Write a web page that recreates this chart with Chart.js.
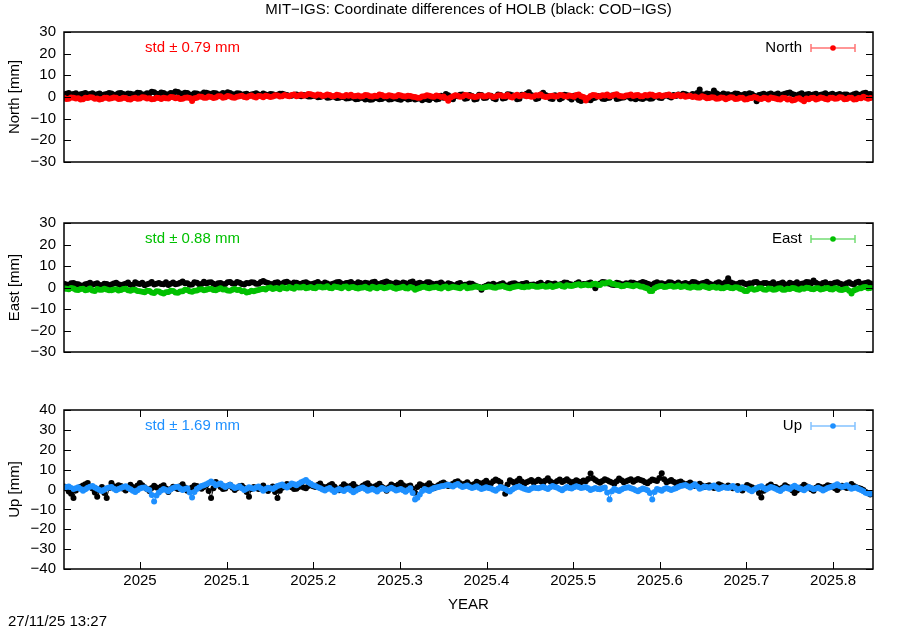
<!DOCTYPE html>
<html>
<head>
<meta charset="utf-8">
<title>MIT-IGS coordinate differences of HOLB</title>
<script src="https://cdn.jsdelivr.net/npm/chart.js@4.4.1/dist/chart.umd.min.js"></script>
<style>
    html, body { margin: 0; padding: 0; background: #fff; }
    #wrap { position: relative; width: 900px; height: 630px; }
    #wrap canvas { position: absolute; left: 0; top: 0; }
</style>
</head>
<body>
<div id="wrap">
    <canvas id="north" width="900" height="630"></canvas>
    <canvas id="east" width="900" height="630"></canvas>
    <canvas id="up" width="900" height="630"></canvas>
</div>
<script>
// Epochs: one daily solution, starting at the left edge of the plot.
const firstEpoch = 2024.9123;
const stepYears = 1 / 365.25;
const xMin = 2024.9123;
const xMax = 2025.8461;
const xTickValues = [2025.0, 2025.1, 2025.2, 2025.3, 2025.4, 2025.5, 2025.6, 2025.7, 2025.8];
const xTickLabels = ["2025", "2025.1", "2025.2", "2025.3", "2025.4", "2025.5", "2025.6", "2025.7", "2025.8"];

// Differences in mm (black = COD-IGS, colour = MIT-IGS).
// 20 days per row.
const codNorth = [
    1.2, 1.5, 1.8, 1.1, 1.4, 1.7, 0.9, 1.3, 1.5, 1.9, 1.1, 1.4, 1.7, 1.0, 1.3, 1.6, 0.8, 1.2, 1.4, 1.8,
    1.6, 1.0, 1.2, 1.7, 1.9, 1.4, 1.0, 1.6, 1.5, 1.2, 1.3, 2.0, 1.8, 1.2, 1.1, 1.7, 1.6, 2.4, 2.2, 1.5,
    1.4, 2.1, 1.9, 1.3, 1.2, 1.8, 1.7, 2.5, 2.3, 1.6, 1.5, 2.0, 1.8, 1.1, 1.0, 1.7, 1.6, 1.2, 1.3, 2.1,
    2.0, 1.6, 1.4, 1.9, 1.7, 1.1, 1.2, 1.8, 1.5, 2.2, 1.9, 1.3, 1.1, 1.7, 1.6, 1.0, 1.3, 1.5, 0.9, 1.2,
    1.4, 1.7, 1.1, 0.8, 1.6, 1.2, 0.8, 1.4, 1.3, 0.7, 1.0, 1.5, 1.5, 1.1, 0.9, 0.5, 0.6, 1.0, 1.2, 0.7,
    0.4, 0.9, 0.7, 0.2, 0.2, 0.6, 0.5, -0.1, 0.0, 0.4, 0.3, -0.3, -0.2, 0.2, 0.1, -0.5, -0.4, 0.0, -0.1, -0.7,
    -0.6, -0.2, -0.3, -1.0, -0.9, -0.4, -0.5, -1.1, -0.8, -1.3, -1.2, -0.5, -0.6, -1.0, -0.9, -0.3, -0.4, -1.1, -1.0, -0.6,
    -0.7, -1.0, -1.3, -0.6, -0.5, -1.2, -0.9, -0.4, -1.1, -0.8, -0.6, -1.5, -0.8, -1.0, -1.4, -0.3, -0.5, -1.2, -0.9, 0.6,
    -0.4, 1.4, 0.8, -0.7, -1.0, 0.6, 0.3, 1.0, 1.2, -0.8, -0.6, 0.9, 0.5, -1.1, -0.9, 1.0, 0.9, -0.5, -0.3, 0.7,
    0.6, -0.6, -1.0, 1.1, 0.9, -0.7, -0.5, 1.3, 1.1, 0.8, 0.2, -1.0, -0.8, 1.0, 0.7, 1.5, 2.2, 0.9, 0.4, -0.9,
    -0.6, 1.2, 2.0, 0.9, 0.5, -0.7, -0.9, 0.8, 0.3, -1.0, -0.5, 1.0, 0.8, -0.4, -1.1, 0.6, -0.3, -1.4, -1.9, -0.5,
    -0.8, -1.2, -1.5, -0.6, -0.4, 0.5, 0.2, -0.8, -0.9, -0.5, -0.3, 0.7, 0.6, -0.9, -0.7, -0.3, -0.2, 0.4, 0.1, -0.7,
    -0.6, -1.0, -0.3, -0.7, -0.9, -0.4, -0.2, -0.8, -0.7, 0.1, 0.4, -0.3, -0.5, 0.5, 0.8, 0.2, -0.2, 0.9, 0.5, 1.1,
    0.9, 1.5, 1.3, 0.8, 0.6, 1.4, 1.1, 1.9, 3.5, 1.3, 1.0, 1.6, 1.4, 1.2, 3.0, 1.7, 1.1, 0.8, 1.6, 1.2,
    1.3, 0.7, 1.0, 1.6, 1.5, 0.9, 0.8, 1.4, 1.2, 1.7, 1.4, 0.6, -2.0, 0.9, 1.1, 1.5, 0.9, 1.3, 1.6, 1.0,
    1.2, 1.6, 0.7, 1.1, 1.5, 1.8, 2.1, 1.4, 1.0, 0.6, 1.3, 1.7, 0.8, 1.2, 1.4, 0.9, 1.1, 1.5, 0.6, 1.0,
    1.3, 1.7, 0.9, 1.2, 1.5, 0.8, 1.0, 1.4, 0.7, 1.1, 1.2, 0.6, 0.8, 1.3, 1.6, 0.9, 1.1, 1.7, 2.0, 1.3,
    1.4,
];
const mitNorth = [
    -0.4, -0.9, -0.8, -0.2, -0.3, -0.7, -0.6, -1.1, -1.0, -0.4, -0.5, -0.1, -0.2, -0.8, -0.7, -1.2, -0.9, -0.3, -0.4, -0.8,
    -0.6, -0.2, -0.3, -0.9, -0.8, -0.4, -0.5, -1.0, -1.1, -0.6, -0.4, -0.8, -0.7, -0.1, -0.2, -0.7, -0.6, -1.0, -0.9, -0.4,
    -0.5, -0.9, -0.3, -0.6, -0.7, 0.0, -0.1, -0.6, -0.4, -0.9, -0.8, -0.3, -0.2, -0.5, -1.8, -0.6, -0.3, 0.2, 0.1, -0.4,
    -0.4, 0.2, 0.0, -0.5, -0.2, 0.4, 0.3, -0.3, -0.1, 0.5, 0.2, -0.2, -0.3, 0.1, 0.4, 0.6, 0.0, -0.2, 0.3, 0.7,
    0.1, -0.2, 0.5, 0.3, -0.1, 0.6, 0.4, 0.0, 0.2, 0.8, 0.7, 0.2, 0.3, 0.9, 0.6, 0.3, 0.9, 1.2, 0.4, 0.7,
    1.1, 0.6, 0.8, 1.4, 1.3, 0.9, 0.6, 1.1, 1.0, 0.5, 0.7, 1.2, 0.9, 0.4, 0.5, 1.0, 0.8, 0.3, 0.4, 0.9,
    0.6, 1.0, 0.3, 0.5, 0.7, 0.2, 0.4, 0.9, 0.8, 0.3, 0.2, 0.6, 0.5, 1.1, 0.9, 0.4, 0.3, 0.8, 0.6, 0.2,
    0.4, 0.9, 0.7, 0.3, 0.2, 0.6, 0.5, 0.1, 0.0, -0.3, -0.4, 0.2, 0.3, 0.8, 0.6, 0.2, 0.1, 0.7, 0.5, 0.0,
    0.2, -0.6, -1.7, -0.2, 0.3, 0.8, 0.6, 0.1, 0.2, 0.9, 0.8, 0.3, 0.4, 0.0, 0.1, 0.6, 0.7, 0.2, 0.3, 0.8,
    0.5, 0.0, 0.2, 0.7, 0.8, 0.3, 0.4, 0.9, 0.1, -0.2, 0.6, 1.0, 0.3, 0.7, 0.9, 0.4, 0.5, 0.1, 0.2, 0.8,
    0.7, 1.1, 0.4, 0.0, 0.1, 0.5, 0.6, 0.2, 0.3, 0.9, 0.8, 0.4, 0.2, 0.7, 0.5, 0.1, 0.9, 1.2, 0.4, 0.0,
    -1.6, -0.4, 0.5, 0.9, 0.8, 0.2, 0.3, 0.8, 0.7, 1.1, 0.4, 0.6, 1.0, 1.3, 0.6, 0.3, 0.2, 0.7, 0.8, 1.2,
    0.5, 0.8, 0.9, 0.4, 0.4, 0.9, 0.7, 1.2, 1.0, 0.5, 0.6, 0.9, 0.3, 0.7, 0.8, 1.1, 0.5, 0.3, 0.7, 1.0,
    0.4, 0.8, 0.1, 0.3, 0.6, 0.0, 0.2, -0.2, -0.3, 0.3, 0.0, -0.6, -0.5, -0.1, -0.2, -0.8, -0.7, -0.2, -0.4, -1.0,
    -0.6, -0.1, -0.2, -0.9, -0.8, -0.3, -0.4, -1.1, -1.0, -0.6, -0.5, 0.0, -0.3, -0.8, -0.9, -0.4, -0.6, -1.2, -0.2, -0.5,
    -0.7, -1.0, -1.2, -0.3, -0.5, -1.1, -0.9, -1.6, -1.4, -0.8, -0.6, -1.3, -2.0, -0.7, -1.0, -0.5, -0.4, -1.1, -0.8, -0.2,
    -0.5, -0.9, -1.1, -0.4, -0.3, -0.8, -0.7, -0.1, -0.2, -1.0, -0.9, -0.3, -0.4, -1.2, -1.0, -0.5, -0.6, 0.1, -0.3, -0.8,
    -0.5,
];
const codEast = [
    1.8, 1.4, 1.2, 2.0, 2.1, 1.6, 1.5, 0.9, 0.9, 1.5, 1.7, 2.2, 1.3, 1.6, 2.0, 1.2, 1.1, 1.8, 1.6, 1.0,
    1.4, 1.9, 2.2, 1.5, 1.0, 1.4, 1.8, 2.3, 1.3, 1.0, 2.4, 1.9, 1.6, 2.2, 1.1, 1.5, 1.9, 2.6, 1.4, 1.8,
    2.1, 1.6, 1.5, 2.4, 1.2, 1.8, 2.3, 1.5, 1.7, 2.2, 2.8, 2.0, 2.0, 1.3, 1.4, 2.5, 2.2, 1.5, 1.6, 2.7,
    1.9, 2.3, 2.5, 1.7, 1.3, 2.0, 2.1, 1.5, 1.6, 2.4, 2.6, 1.9, 1.8, 2.6, 2.2, 1.6, 1.4, 2.1, 2.0, 2.5,
    2.3, 1.8, 1.7, 2.6, 3.0, 2.4, 2.1, 1.6, 1.5, 2.2, 2.4, 1.8, 1.9, 2.5, 2.7, 2.0, 1.6, 2.3, 2.2, 1.7,
    1.8, 2.2, 2.5, 1.9, 1.4, 1.8, 2.1, 2.6, 1.7, 1.3, 2.3, 1.9, 1.2, 1.6, 2.0, 2.4, 2.6, 1.9, 1.5, 2.1,
    2.2, 2.6, 1.8, 1.5, 2.5, 2.1, 1.6, 2.2, 2.0, 1.7, 2.4, 2.7, 1.7, 1.4, 2.1, 2.5, 2.8, 2.2, 1.9, 1.6,
    2.3, 2.0, 1.6, 2.3, 2.0, 1.5, 2.5, 2.8, 1.5, 1.9, 2.2, 1.7, 1.8, 2.4, 2.4, 1.9, 1.3, 1.8, 1.9, 2.3,
    1.5, 1.1, 2.0, 1.6, 1.2, 0.8, 1.7, 2.1, 0.9, 1.3, 1.4, 1.9, 1.8, 1.1, 0.6, 0.2, -1.0, 0.4, 0.8, 1.4,
    1.3, 1.7, 0.9, 1.2, 1.6, 2.0, 1.1, 0.7, 1.5, 1.9, 2.0, 1.4, 1.2, 1.6, 1.7, 2.1, 1.0, 1.3, 1.4, 0.9,
    1.8, 2.2, 1.3, 1.0, 2.1, 1.7, 1.5, 1.9, 1.0, 1.4, 1.7, 2.3, 2.2, 1.6, 1.4, 1.1, 1.9, 2.4, 1.2, 1.6,
    1.6, 2.0, 2.3, 1.2, -0.4, 1.3, 1.9, 2.6, 2.5, 2.0, 1.7, 1.3, 1.2, 2.2, 2.0, 1.5, 1.4, 2.0, 1.8, 2.3,
    2.2, 1.8, 1.5, 2.1, 2.6, 2.2, 1.8, 1.4, 1.3, 2.0, 2.4, 1.9, 2.0, 1.5, 1.6, 2.4, 2.3, 1.8, 1.7, 2.3,
    1.4, 1.8, 2.1, 1.5, 1.8, 2.6, 2.5, 1.9, 1.5, 2.0, 2.2, 2.7, 1.9, 1.4, 1.3, 2.0, 2.4, 1.9, 1.7, 2.5,
    4.3, 2.4, 2.0, 1.5, 1.6, 2.2, 2.3, 1.7, 1.4, 2.0, 1.9, 2.5, 2.6, 1.8, 1.5, 2.1, 2.1, 1.6, 1.8, 2.4,
    1.2, 1.6, 1.9, 2.3, 1.5, 1.1, 2.2, 1.8, 1.7, 2.4, 1.3, 1.7, 2.0, 2.6, 2.5, 1.9, 3.2, 2.2, 1.6, 1.4,
    2.1, 2.5, 1.4, 1.7, 1.8, 2.2, 2.4, 1.9, 1.5, 1.3, 2.0, 2.4, 1.7, 1.4, 2.3, 2.7, 1.6, 1.9, 2.1, 2.5,
    1.9,
];
const mitEast = [
    -0.3, -0.6, -0.8, -0.2, -0.5, -1.0, -1.2, -0.7, -0.6, -1.3, -1.0, -0.5, -1.4, -1.6, -0.7, -1.1, -1.1, -0.6, -0.9, -1.3,
    -1.3, -0.9, -0.8, -1.4, -1.2, -0.7, -0.6, -1.3, -1.5, -1.1, -1.0, -1.6, -1.8, -2.0, -2.2, -1.5, -1.6, -2.3, -2.5, -1.8,
    -1.9, -2.4, -2.8, -2.2, -2.1, -1.5, -1.6, -2.3, -2.4, -1.9, -1.7, -1.1, -1.2, -1.8, -2.0, -1.5, -1.4, -0.9, -0.8, -1.3,
    -1.1, -0.7, -0.6, -1.2, -1.3, -0.8, -0.4, -0.9, -0.9, -1.4, -1.5, -1.0, -0.7, -1.2, -1.0, -1.7, -1.6, -2.3, -2.1, -1.5,
    -1.8, -1.4, -1.2, -0.8, -0.6, -0.9, -0.2, 0.0, -0.7, -0.3, -0.4, -0.8, 0.1, -0.2, -0.5, 0.2, -0.2, -0.6, 0.3, 0.0,
    0.0, 0.4, -0.4, -0.1, 0.2, -0.2, -0.3, 0.3, 0.4, 0.0, 0.1, 0.6, -0.2, -0.4, 0.5, 0.2, 0.0, -0.3, 0.3, 0.5,
    -0.3, 0.1, 0.2, -0.2, -0.5, -0.1, 0.0, 0.4, -0.2, -0.6, 0.3, 0.0, -0.4, 0.2, 0.1, -0.3, -0.1, 0.3, 0.4, -0.2,
    -0.6, -0.2, 0.0, 0.3, -0.3, -0.5, 0.2, -0.1, -1.0, -0.6, -0.2, 0.2, 0.3, -0.1, -0.4, 0.0, 0.1, 0.4, -0.2, -0.5,
    0.2, 0.5, -0.3, 0.0, 0.4, 0.1, -0.1, -0.4, 0.3, 0.6, -0.4, -0.1, 0.0, 0.3, 0.5, 0.1, -0.2, 0.0, 0.2, 0.5,
    0.4, 0.0, -0.1, 0.3, 0.5, 0.7, 0.2, -0.1, -0.3, 0.1, 0.3, 0.6, 0.6, 0.2, 0.1, 0.5, 0.4, 0.8, 0.7, 0.3,
    0.3, 0.6, 0.8, 0.4, 0.5, 0.9, 0.2, 0.6, 0.9, 1.2, 0.6, 0.3, 1.1, 0.8, 0.7, 1.0, 1.3, 1.5, 0.9, 1.2,
    1.4, 1.0, 1.1, 1.6, 1.7, 1.3, 1.2, 2.0, 1.9, 2.2, 2.5, 1.8, 1.6, 1.2, 1.0, 0.6, 0.7, 1.2, 1.1, 0.8,
    0.6, 1.0, 0.9, 0.5, 0.4, -0.1, -0.5, -1.6, -1.6, -0.3, 0.2, 0.6, 0.7, 0.2, 0.3, 0.7, 0.8, 0.4, 0.5, 0.9,
    0.2, 0.5, 0.6, 0.1, -0.1, 0.3, 0.4, 0.0, 0.0, 0.6, 0.5, 0.1, -0.2, 0.2, 0.3, -0.1, 0.1, -0.4, -0.3, 0.1,
    0.2, -0.2, -0.4, 0.1, 0.0, -0.6, -0.9, -1.6, -1.6, -0.7, -0.5, -1.0, -0.8, -0.4, -0.3, -0.9, -1.0, -0.5, -0.6, -1.1,
    -0.9, -0.5, -0.4, -1.0, -1.1, -0.6, -0.7, -0.2, -0.3, -0.8, -1.0, -0.5, -0.6, -0.1, -0.2, -0.7, -0.8, -0.3, -0.4, -0.9,
    -0.7, -0.3, -0.2, -0.8, -0.9, -0.4, -0.5, -1.0, -1.2, -0.8, -0.6, -1.5, -2.8, -1.4, -0.9, -0.5, -0.3, 0.1, 0.2, -0.4,
    -0.2,
];
const codUp = [
    1.5, 0.6, -1.0, -2.2, -4.3, -0.5, 0.8, 1.4, 2.0, 2.6, 3.3, 1.2, 0.5, -1.5, -3.6, -0.4, 1.2, -1.8, -4.3, 0.7,
    3.3, 1.6, 0.9, 2.1, 1.8, 0.4, -0.5, 1.1, 2.4, 1.3, 0.3, 2.0, 3.3, 2.2, 1.1, 0.2, -0.8, 0.8, 1.9, 1.0,
    0.6, 1.5, 2.2, 0.5, -1.2, 0.3, 1.4, 0.9, 0.2, 1.6, 2.6, 1.0, -0.6, 0.4, 1.0, 2.0, 1.7, 0.8, 0.4, 1.3,
    2.1, -0.8, -4.3, 0.6, 3.8, 2.5, 1.2, 0.3, 0.5, 1.8, 2.4, 0.9, -0.3, 0.7, 1.6, 1.9, 0.8, -1.2, -3.6, 0.2,
    1.3, 0.8, 0.2, 1.1, 2.0, 0.6, -0.7, 0.5, 1.5, -1.2, -4.3, -0.6, 0.9, 1.8, 2.8, 2.0, 1.1, 0.3, 0.4, 1.2,
    1.8, 1.0, 0.6, 1.7, 2.4, 1.6, 1.2, 2.3, 3.0, 1.5, 0.8, 1.4, 2.1, 2.8, 1.5, 0.5, -0.4, 1.3, 2.6, 1.7,
    1.0, 1.9, 2.8, 1.2, 0.3, 1.0, 1.9, 2.6, 3.2, 1.8, 0.7, 1.5, 2.2, 2.9, 1.4, 0.6, -0.6, 1.1, 2.5, 1.8,
    1.7, 2.5, 3.4, 2.1, 0.9, 1.6, 2.0, 0.4, -1.6, 1.2, 2.7, 2.0, 1.3, 2.2, 3.1, 1.8, 0.6, 1.5, 2.3, 3.0,
    3.5, 2.6, 1.8, 2.4, 2.9, 3.8, 4.2, 3.1, 2.2, 2.9, 3.6, 2.5, 1.5, 2.8, 3.9, 3.3, 2.6, 3.5, 4.4, 3.2,
    3.0, 4.2, 5.0, 4.4, 3.7, 1.0, -2.2, 2.5, 4.6, 3.9, 3.2, 4.3, 5.4, 4.0, 2.8, 3.6, 4.1, 4.8, 3.5, 4.2,
    4.9, 4.1, 3.3, 4.5, 5.6, 4.2, 2.6, 3.5, 4.3, 5.0, 3.8, 4.4, 5.2, 4.1, 3.0, 3.9, 4.7, 4.0, 3.6, 4.5,
    4.2, 5.3, 8.0, 5.6, 4.8, 4.0, 3.4, 4.3, 5.1, 4.6, 4.0, 3.5, 2.9, 4.2, 5.5, 4.7, 3.7, 4.1, 4.6, 5.2,
    3.9, 4.6, 5.3, 4.8, 4.4, 3.6, 3.1, 4.1, 5.0, 4.7, 4.3, 5.8, 8.2, 5.1, 3.6, 4.2, 4.8, 3.9, 3.2, 3.7,
    4.0, 3.1, 2.4, 2.9, 3.5, 2.6, 1.8, 2.3, 2.9, 2.0, 1.2, 1.7, 2.2, 1.4, 0.8, 1.9, 2.6, 2.1, 1.5, 1.1,
    2.0, 1.3, 0.6, 1.2, 1.7, 0.7, -0.5, 1.0, 2.3, 1.6, 1.1, 0.5, 0.3, -1.8, -4.0, -0.6, 0.9, 1.8, 2.5, 1.4,
    1.3, 0.5, -0.3, 1.0, 2.1, 1.4, 0.7, -0.4, -1.8, -0.5, 0.2, 1.3, 2.4, 1.6, 1.0, 0.1, -0.6, 0.9, 1.8, 1.2,
    0.5, 1.4, 2.2, 1.7, 1.4, 0.6, -0.2, 0.9, 1.9, 1.3, 0.8, 1.7, 2.8, 1.8, 1.1, 0.7, 0.4, -0.3, -1.2, -1.9,
    -2.5,
];
const mitUp = [
    0.8, 1.2, 1.5, 0.7, 0.2, 0.6, 1.1, 0.3, -0.6, 0.1, 0.9, 1.4, 1.8, 1.0, 0.4, -0.3, -0.8, -0.1, 0.6, 1.0,
    1.2, 0.4, -0.4, 0.2, 0.7, 1.3, 1.6, 0.8, 0.1, -0.6, -1.3, -0.4, 0.5, 0.9, 1.0, 0.3, -0.2, -2.8, -6.0, -3.0,
    -1.5, -0.5, 0.3, -0.2, -0.9, 0.1, 0.8, 1.2, 1.4, 0.5, -0.3, 0.2, 0.6, -1.5, -4.0, -1.2, 0.2, 1.0, 1.8, 2.2,
    2.6, 3.3, 4.0, 3.1, 2.2, 2.7, 3.0, 2.0, 1.3, 1.9, 2.4, 1.5, 0.7, 1.1, 1.6, 0.6, -0.2, 0.4, 1.1, 0.8,
    0.4, 1.0, 1.5, 0.5, -0.6, 0.2, 0.9, 0.6, 0.2, 1.0, 1.7, 2.1, 2.5, 1.6, 1.0, 2.0, 3.0, 2.6, 2.1, 2.9,
    3.6, 4.1, 4.8, 3.7, 2.9, 2.2, 1.8, 1.1, 0.6, 0.0, -0.5, 0.2, 0.8, -0.3, -1.2, -0.4, 0.3, -0.2, -0.8, 0.1,
    0.5, -0.5, -1.4, -0.6, 0.1, 0.6, 1.0, 0.2, -0.6, -0.1, 0.4, -0.3, -1.0, 0.0, 0.7, 0.3, -0.3, 0.4, 0.9, 0.2,
    -0.5, -0.1, 0.3, -0.4, -1.1, -0.2, 0.6, -1.8, -5.0, -4.2, -2.5, -0.8, 0.2, -0.2, -0.7, 0.1, 0.8, 1.0, 1.3, 1.6,
    1.8, 2.2, 2.4, 1.9, 1.5, 2.3, 2.8, 1.9, 1.2, 1.6, 2.0, 1.3, 0.7, 1.1, 1.6, 0.9, 0.3, 0.6, 1.1, 0.8,
    0.5, -0.1, -0.6, 0.4, 1.3, 0.7, 0.2, -0.5, -1.0, 0.0, 0.8, 1.2, 1.5, 0.9, 0.4, 0.0, -0.3, 0.5, 1.0, 0.7,
    0.6, 1.0, 1.4, 0.7, 0.2, 1.1, 1.8, 1.3, 0.9, 0.2, -0.4, 0.5, 1.2, 0.8, 0.5, 1.1, 1.6, 1.2, 0.8, 1.0,
    1.3, 0.6, -0.2, 0.3, 0.7, 0.2, 0.1, 0.6, 1.0, -1.5, -5.0, -0.9, 0.4, -0.2, -0.8, 0.0, 0.6, 0.9, 1.1, 0.6,
    0.3, -0.4, -0.9, -0.1, 0.5, 0.1, -0.4, -1.8, -5.0, -1.2, 0.2, -0.1, -0.6, 0.2, 0.8, 0.3, -0.2, 0.3, 0.6, 1.2,
    1.7, 2.0, 2.3, 1.6, 1.0, 1.9, 2.6, 1.5, 0.4, 0.9, 1.5, 1.2, 0.9, 1.5, 2.0, 1.1, 0.2, 0.7, 1.2, 1.0,
    0.7, 1.3, 1.8, 0.8, -0.3, 0.4, 1.1, 0.8, 0.5, -0.2, -0.9, 0.0, 0.8, 1.2, 1.6, 0.7, 0.0, 0.6, 1.2, 0.9,
    0.4, -0.2, -0.7, 0.2, 1.0, 0.6, 0.3, 1.2, 1.9, 1.1, 0.6, 0.1, -0.4, 0.5, 1.3, 0.7, 0.1, 0.5, 0.9, 0.2,
    -0.5, 0.1, 0.7, 1.1, 1.5, 2.0, 2.6, 1.8, 1.2, 1.6, 2.1, 1.2, 0.4, 0.8, 1.0, 0.3, -0.3, -0.9, -1.6, -2.0,
    -2.2,
];

const fontFamily = "'Liberation Sans', Arial, Helvetica, sans-serif";
const font = { family: fontFamily, size: 15 };

function toPoints(values) {
    return values.map((v, i) => ({ x: firstEpoch + i * stepYears, y: v }));
}

function minusSign(v) {
    return String(v).replace("-", "\u2212");
}

// gnuplot look: closed border, inward tics on both sides, std note and key inside.
const gnuFrame = {
    id: "gnuFrame",
    afterDraw(chart, args, opts) {
        const { ctx, chartArea: a } = chart;
        const xs = chart.scales.x;
        const ys = chart.scales.y;
        const tic = 7;
        ctx.save();
        ctx.strokeStyle = "#000";
        ctx.lineWidth = 1;
        ctx.beginPath();
        ys.ticks.forEach((t) => {
            const py = Math.round(ys.getPixelForValue(t.value)) + 0.5;
            ctx.moveTo(a.left, py);
            ctx.lineTo(a.left + tic, py);
            ctx.moveTo(a.right, py);
            ctx.lineTo(a.right - tic, py);
        });
        if (opts.xTics) {
            xs.ticks.forEach((t) => {
                const px = Math.round(xs.getPixelForValue(t.value)) + 0.5;
                ctx.moveTo(px, a.bottom);
                ctx.lineTo(px, a.bottom - tic);
                ctx.moveTo(px, a.top);
                ctx.lineTo(px, a.top + tic);
            });
        }
        ctx.stroke();
        ctx.lineWidth = 1.5;
        ctx.strokeRect(a.left, a.top, a.right - a.left, a.bottom - a.top);

        ctx.font = `${font.size}px ${fontFamily}`;
        ctx.textBaseline = "middle";
        const keyY = a.top + 16;

        ctx.fillStyle = opts.color;
        ctx.textAlign = "left";
        ctx.fillText(opts.std, a.left + 81, keyY);

        ctx.fillStyle = "#000";
        ctx.textAlign = "right";
        ctx.fillText(opts.label, a.right - 71, keyY);

        // key sample: errorbar line with caps and a point
        const x0 = a.right - 62;
        const x1 = a.right - 18;
        ctx.strokeStyle = opts.keyLine;
        ctx.lineWidth = 1.5;
        ctx.beginPath();
        ctx.moveTo(x0, keyY);
        ctx.lineTo(x1, keyY);
        ctx.moveTo(x0, keyY - 4);
        ctx.lineTo(x0, keyY + 4);
        ctx.moveTo(x1, keyY - 4);
        ctx.lineTo(x1, keyY + 4);
        ctx.stroke();
        ctx.fillStyle = opts.color;
        ctx.beginPath();
        ctx.arc((x0 + x1) / 2, keyY, 2.8, 0, Math.PI * 2);
        ctx.fill();

        ctx.fillStyle = "#000";
        ctx.save();
        ctx.translate(15, (a.top + a.bottom) / 2);
        ctx.rotate(-Math.PI / 2);
        ctx.textAlign = "center";
        ctx.fillText(opts.yTitle, 0, 0);
        ctx.restore();

        const midX = (a.left + a.right) / 2;
        if (opts.title) {
            ctx.textAlign = "center";
            ctx.fillText(opts.title, midX, 10);
        }
        if (opts.xTitle) {
            ctx.textAlign = "center";
            ctx.fillText(opts.xTitle, midX, 605);
        }
        if (opts.stamp) {
            ctx.textAlign = "left";
            ctx.fillText(opts.stamp, 8, 622);
        }
        ctx.restore();
    },
};

function makePanel(id, panel) {
    return new Chart(document.getElementById(id), {
        type: "line",
        data: {
            datasets: [
                {
                    label: "MIT-IGS",
                    data: toPoints(panel.mit),
                    borderColor: panel.color,
                    backgroundColor: panel.color,
                    pointBackgroundColor: panel.color,
                    order: 0,
                },
                {
                    label: "COD-IGS",
                    data: toPoints(panel.cod),
                    borderColor: "#000",
                    backgroundColor: "#000",
                    pointBackgroundColor: "#000",
                    order: 1,
                },
            ],
        },
        options: {
            responsive: false,
            animation: false,
            devicePixelRatio: 1,
            events: [],
            layout: {
                padding: { left: 0, right: 27, top: panel.top, bottom: panel.bottom },
            },
            elements: {
                line: { borderWidth: 1, tension: 0 },
                point: { radius: 3, borderWidth: 0 },
            },
            plugins: {
                legend: { display: false },
                tooltip: { enabled: false },
                gnuFrame: panel.frame,
            },
            scales: {
                x: {
                    type: "linear",
                    min: xMin,
                    max: xMax,
                    display: panel.showX,
                    afterBuildTicks: (scale) => {
                        scale.ticks = xTickValues.map((value) => ({ value }));
                    },
                    afterFit: (scale) => {
                        scale.height = 30;
                    },
                    grid: { display: false, drawTicks: false },
                    border: { display: false },
                    ticks: {
                        color: "#000",
                        font,
                        padding: 3,
                        autoSkip: false,
                        maxRotation: 0,
                        callback: (value, index) => xTickLabels[index],
                    },
                },
                y: {
                    min: panel.yMin,
                    max: panel.yMax,
                    afterFit: (scale) => {
                        scale.width = 64;
                    },
                    grid: { display: false, drawTicks: false },
                    border: { display: false },
                    ticks: {
                        stepSize: 10,
                        autoSkip: false,
                        color: "#000",
                        font,
                        padding: 8,
                        callback: (value) => minusSign(value),
                    },
                },
            },
        },
        plugins: [gnuFrame],
    });
}

makePanel("north", {
    cod: codNorth,
    mit: mitNorth,
    color: "#ff0000",
    yMin: -30,
    yMax: 30,
    top: 32,
    bottom: 438,
    showX: false,
    frame: {
        color: "#ff0000",
        keyLine: "rgba(255,0,0,0.55)",
        std: "std \u00b1 0.79 mm",
        label: "North",
        yTitle: "North [mm]",
        title: "MIT\u2212IGS: Coordinate differences of HOLB (black: COD\u2212IGS)",
    },
});

makePanel("east", {
    cod: codEast,
    mit: mitEast,
    color: "#00c000",
    yMin: -30,
    yMax: 30,
    top: 223,
    bottom: 248,
    showX: false,
    frame: {
        color: "#00c000",
        keyLine: "rgba(0,192,0,0.55)",
        std: "std \u00b1 0.88 mm",
        label: "East",
        yTitle: "East [mm]",
    },
});

makePanel("up", {
    cod: codUp,
    mit: mitUp,
    color: "#1e90ff",
    yMin: -40,
    yMax: 40,
    top: 410,
    bottom: 31,
    showX: true,
    frame: {
        color: "#1e90ff",
        keyLine: "rgba(30,144,255,0.55)",
        std: "std \u00b1 1.69 mm",
        label: "Up",
        yTitle: "Up [mm]",
        xTitle: "YEAR",
        stamp: "27/11/25 13:27",
        xTics: true,
    },
});
</script>
</body>
</html>
